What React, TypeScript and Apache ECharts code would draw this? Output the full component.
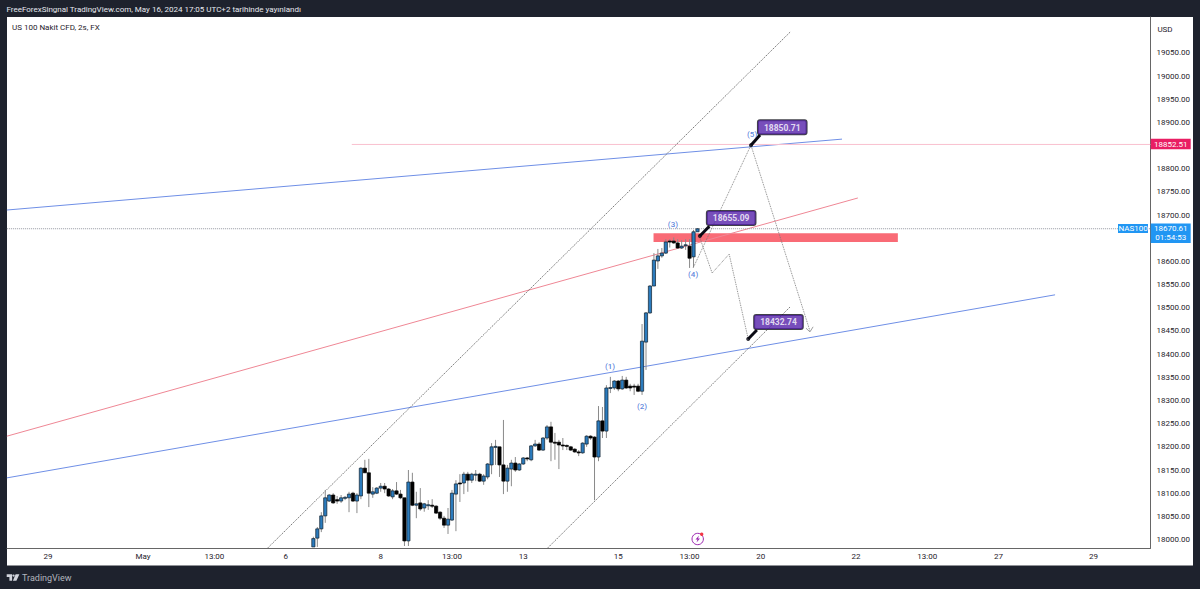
import React, { useEffect, useRef } from "react";
import * as echarts from "echarts";

// Candles: each array runs oldest to newest, one entry per 2-hour bar.
const opens = [17984,18003,18023,18051,18083,18096,18086,18083,18090,18090,18100,18083,18094,18154,18144,18098,18100,18111,18115,18109,18092,18105,18098,18090,17997,18124,18074,18079,18068,18074,18074,18072,18059,18046,18031,18042,18098,18122,18122,18141,18128,18140,18141,18126,18135,18161,18200,18200,18161,18126,18152,18165,18150,18163,18176,18172,18202,18206,18193,18219,18243,18210,18210,18204,18203,18200,18195,18189,18187,18206,18223,18221,18178,18256,18234,18327,18327,18342,18325,18344,18331,18331,18331,18320,18426,18489,18547,18601,18612,18618,18644,18644,18640,18629,18634,18633,18610,18664];
const closes = [18002,18023,18051,18090,18096,18079,18083,18090,18091,18098,18083,18096,18154,18144,18100,18103,18111,18115,18109,18094,18105,18098,18090,17997,18124,18074,18077,18066,18077,18075,18073,18057,18046,18031,18044,18100,18120,18120,18141,18128,18141,18141,18126,18137,18163,18200,18201,18161,18126,18154,18165,18150,18163,18176,18174,18202,18206,18193,18219,18243,18210,18208,18204,18203,18202,18193,18189,18187,18208,18223,18219,18178,18256,18234,18327,18328,18342,18325,18344,18327,18327,18329,18320,18428,18489,18547,18603,18612,18618,18642,18642,18640,18629,18633,18636,18607,18664,18670.61];
const lows = [17984,17984,18016,18036,18081,18077,18077,18079,18085,18059,18081,18057,18087,18144,18070,18090,18098,18103,18100,18092,18087,18096,18087,17986,17986,18072,18046,18062,18060,18064,18068,18055,18042,18025,18012,18040,18018,18081,18098,18103,18122,18126,18124,18118,18130,18141,18161,18135,18098,18103,18115,18146,18148,18161,18169,18169,18200,18191,18191,18215,18169,18172,18152,18193,18193,18191,18187,18180,18185,18200,18215,18085,18169,18219,18219,18316,18323,18320,18323,18325,18320,18312,18318,18312,18366,18487,18547,18584,18608,18616,18630,18638,18627,18627,18625,18586,18588,18664];
const highs = [18006,18027,18059,18107,18098,18100,18094,18096,18094,18103,18103,18100,18156,18172,18174,18113,18113,18122,18122,18111,18109,18124,18107,18090,18150,18144,18103,18111,18079,18085,18087,18074,18061,18051,18068,18107,18128,18141,18146,18146,18144,18150,18144,18141,18165,18208,18215,18200,18258,18161,18172,18178,18165,18178,18178,18204,18215,18210,18221,18247,18254,18230,18215,18219,18205,18202,18197,18193,18210,18225,18225,18223,18288,18286,18333,18351,18344,18344,18353,18351,18336,18336,18336,18465,18491,18549,18618,18627,18629,18648,18648,18652,18648,18646,18648,18648,18668,18672];

// Axis labels
const timeTickIndex = [-67,-43,-25,-7,17,35,53,77,95,113,137,155,173,197];
const timeTickLabels = ["29","May","13:00","6","8","13:00","13","15","13:00","20","22","13:00","27","29"];
const priceTicks = [18000,18050,18100,18150,18200,18250,18300,18350,18400,18450,18500,18550,18600,18700,18750,18800,18900,18950,19000,19050];

// Drawn objects, as [bar index, price]
const blueUpper = [[-77.4,18711],[133.5,18864]];
const blueLower = [[-77.4,18133],[187.3,18528]];
const redTrend = [[-77.4,18223],[137.5,18737]];
const resistance = [[9.7,18852.51],[211.4,18852.51]];
const lastPriceLine = [[-77.4,18670.61],[211.4,18670.61]];
const channelUpper = [[-11.5,17982],[120.4,19095]];
const channelLower = [[59.2,17982],[120.4,18502]];
const pathUp = [[95.9,18586],[110.5,18851],[125.4,18450]];
const arrowHead = [[124.4,18456],[125.4,18448],[126.2,18459]];
const pathDown = [[97.6,18651],[100.7,18575],[105,18616],[109.8,18433]];
const zoneBars = [85.9,147.6];
const zonePrices = [18642,18661];
const waveLabels = [
  { name: "(1)", at: [74.9,18374] },
  { name: "(2)", at: [83,18286] },
  { name: "(3)", at: [90.8,18679] },
  { name: "(4)", at: [95.9,18571] },
  { name: "(5)", at: [110.8,18873] },
];
const callouts = [
  { price: 18850.71, bar: 110.5, tailEnd: [112.8,18873], dx: 9, dy: -23 },
  { price: 18655.09, bar: 97.6, tailEnd: [100,18676], dx: 9, dy: -23 },
  { price: 18432.74, bar: 109.8, tailEnd: [112,18452], dx: 8, dy: -22 },
];

const FONT = "Roboto";
const INK = "#1f222b";
const TV_MARK = "M0 0H5.4V6.4H2.7V2.7H0Z M8.9 0H12.7L9.7 6.4H6.2Z M8 1.3A1.15 1.15 0 1 1 5.7 1.3A1.15 1.15 0 1 1 8 1.3Z";

const candleData = opens.map((o, i) => [i, o, closes[i], lows[i], highs[i]]);

function lineSeries(data: number[][], color: string, width: number, type: any = "solid", z = 3) {
  return {
    type: "line",
    data,
    silent: true,
    symbol: "none",
    z,
    lineStyle: { color, width, type },
    clip: true,
  };
}

function renderCandle(_p: any, api: any) {
  const x = api.value(0);
  const o = api.value(1);
  const c = api.value(2);
  const l = api.value(3);
  const h = api.value(4);
  const [cx, yo] = api.coord([x, o]);
  const yc = api.coord([x, c])[1];
  const yl = api.coord([x, l])[1];
  const yh = api.coord([x, h])[1];
  const up = c >= o;
  const top = Math.min(yo, yc);
  const height = Math.max(Math.abs(yo - yc), 1);
  return {
    type: "group",
    children: [
      { type: "line", shape: { x1: cx, y1: yh, x2: cx, y2: yl }, style: { stroke: "#8a8a8a", lineWidth: 1 } },
      {
        type: "rect",
        shape: { x: cx - 1.6, y: top, width: 3.2, height },
        style: { fill: up ? "#2b7bbd" : "#000000", stroke: up ? "#10202c" : "#000000", lineWidth: 0.7 },
      },
    ],
  };
}

function tag(x: number, y: number, w: number, h: number, fill: string) {
  return { type: "rect", z: 50, silent: true, shape: { x, y, width: w, height: h }, style: { fill } };
}

function label(text: string, x: number, y: number, fontSize: number, fill: string, align = "left", fontWeight = "normal") {
  return {
    type: "text",
    z: 60,
    silent: true,
    x,
    y,
    style: { text, fontSize, fontFamily: FONT, fontWeight, fill, align, verticalAlign: "middle" },
  };
}

echarts.graphic.registerShape("tvMark", echarts.graphic.extendPath(TV_MARK, {}) as any);

export default function App() {
  const ref = useRef<HTMLDivElement>(null);
  useEffect(() => {
    document.documentElement.style.margin = "0";
    document.body.style.margin = "0";
    document.body.style.background = "#1e222d";
    const chart = echarts.init(ref.current!, undefined, { renderer: "svg" });
    chart.setOption({
      animation: false,
      backgroundColor: "#1e222d",
      tooltip: { show: false },
      grid: { left: 7, right: 49.5, top: 17, bottom: 41 },
      xAxis: {
        type: "value",
        min: -77.37,
        max: 211.4,
        splitLine: { show: false },
        axisLine: { show: true, onZero: false, lineStyle: { color: "#666666", width: 1 } },
        axisTick: { show: false },
        axisLabel: {
          customValues: timeTickIndex,
          formatter: (v: number) => timeTickLabels[timeTickIndex.indexOf(v)] ?? "",
          color: INK,
          fontFamily: FONT,
          fontSize: 8,
          margin: 4,
          showMinLabel: true,
          showMaxLabel: true,
        },
      },
      yAxis: {
        type: "value",
        position: "right",
        min: 17981.7,
        max: 19127.5,
        splitLine: { show: false },
        axisLine: { show: true, onZero: false, lineStyle: { color: "#666666", width: 1 } },
        axisTick: { show: false },
        axisLabel: {
          customValues: priceTicks,
          formatter: (v: number) => v.toFixed(2),
          color: INK,
          fontFamily: FONT,
          fontSize: 8,
          margin: 6,
        },
      },
      series: [
        {
          type: "custom",
          name: "US 100",
          silent: true,
          z: 4,
          clip: true,
          renderItem: renderCandle,
          encode: { x: 0, y: [1, 2, 3, 4] },
          data: candleData,
        },
        {
          type: "line",
          data: [],
          silent: true,
          z: 2,
          markArea: {
            silent: true,
            itemStyle: { color: "#f96b76" },
            data: [[{ coord: [zoneBars[0], zonePrices[1]] }, { coord: [zoneBars[1], zonePrices[0]] }]],
          },
        },
        lineSeries(blueUpper, "#6f8fe6", 1),
        lineSeries(blueLower, "#6f8fe6", 1),
        lineSeries(redTrend, "#ef8795", 1),
        lineSeries(resistance, "#f9c0cf", 1),
        lineSeries(lastPriceLine, "#9598a1", 1, "dotted"),
        lineSeries(channelUpper, "#555555", 0.8, [1.5, 1]),
        lineSeries(channelLower, "#555555", 0.8, [1.5, 1]),
        lineSeries(pathUp, "#777777", 0.9, "dotted", 5),
        lineSeries(arrowHead, "#777777", 0.7, "solid", 5),
        lineSeries(pathDown, "#777777", 0.9, "dotted", 5),
        ...callouts.map((c) => lineSeries([[c.bar, c.price], c.tailEnd], "#0a0a14", 3, "solid", 6)),
        {
          type: "scatter",
          silent: true,
          z: 7,
          symbolSize: 1,
          itemStyle: { color: "transparent" },
          data: waveLabels.map((w) => ({ name: w.name, value: w.at })),
          label: {
            show: true,
            position: "inside",
            formatter: (p: any) => p.name,
            color: "#3568d4",
            fontFamily: FONT,
            fontSize: 8,
            fontWeight: 500,
          },
        },
        ...callouts.map((c) => ({
          type: "scatter",
          silent: true,
          z: 8,
          symbolSize: 4,
          itemStyle: { color: "#0a0a14" },
          data: [[c.bar, c.price]],
          label: {
            show: true,
            position: [c.dx, c.dy],
            formatter: () => c.price.toFixed(2),
            color: "#ffffff",
            fontFamily: FONT,
            fontWeight: "bold",
            fontSize: 8.5,
            backgroundColor: "#5522aa",
            borderColor: "#12121c",
            borderWidth: 1,
            borderRadius: 2,
            padding: [3, 6, 2, 6],
          },
        })),
      ],
      graphic: [
        { type: "rect", z: -100, silent: true, shape: { x: 7, y: 17, width: 1186, height: 548.5 }, style: { fill: "#ffffff" } },
        label("FreeForexSingnal TradingView.com, May 16, 2024 17:05 UTC+2 tarihinde yayınlandı", 6.5, 9.5, 8, "#e6e8ee"),
        label("US 100 Nakit CFD, 2s, FX", 12, 27.5, 8, INK),
        label("USD", 1165, 29.5, 8, INK, "center"),
        tag(1150.7, 138.7, 40, 10.6, "#e91e63"),
        label("18852.51", 1170.7, 144.2, 8, "#ffffff", "center"),
        tag(1118, 224, 30, 9, "#2196f3"),
        label("NAS100", 1133, 228.7, 8, "#ffffff", "center"),
        tag(1150.7, 223.5, 40, 19.5, "#2196f3"),
        label("18670.61", 1170.7, 228.7, 8, "#ffffff", "center"),
        label("01:54:53", 1170.7, 237.7, 8, "#ffffff", "center"),
        { type: "circle", z: 60, silent: true, shape: { cx: 697.7, cy: 539, r: 5.7 }, style: { fill: "#ffffff", stroke: "#9c27b0", lineWidth: 1 } },
        { type: "polygon", z: 61, silent: true, shape: { points: [[699,535.5],[695.5,539.5],[697.5,539.5],[696.5,542.5],[700,538.5],[698,538.5]] }, style: { fill: "#9c27b0" } },
        { type: "circle", z: 62, silent: true, shape: { cx: 701.7, cy: 534.3, r: 1.7 }, style: { fill: "#f23645" } },
        { type: "tvMark", z: 60, silent: true, x: 6.7, y: 574.3, style: { fill: "#d1d4dc" } },
        label("TradingView", 22, 577.5, 9, "#b2b5be"),
      ],
    });
    return () => chart.dispose();
  }, []);
  return <div ref={ref} style={{ position: "absolute", left: 0, top: 0, width: 1200, height: 589 }} />;
}
